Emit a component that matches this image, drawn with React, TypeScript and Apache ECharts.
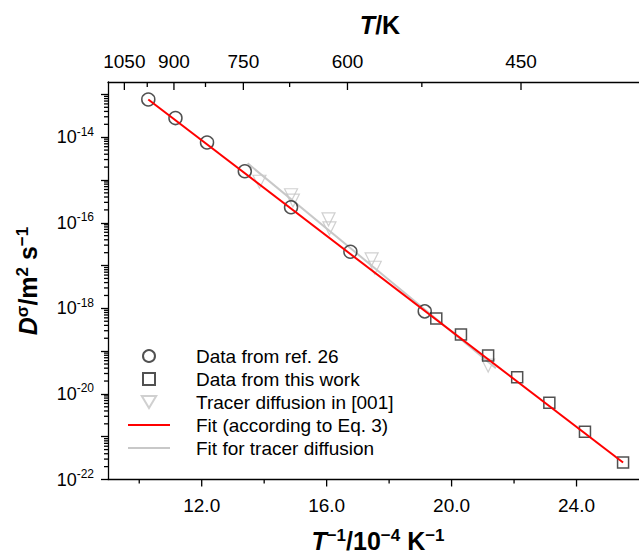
import React, { useEffect, useRef } from "react";
import * as echarts from "echarts";

const FONT = '"Liberation Sans", Arial, sans-serif';

// Data from ref. 26 (circles): x = T^-1 / 10^-4 K^-1, y = D (m^2 s^-1)
const refInvT = [10.29, 11.16, 12.17, 13.38, 14.86, 16.76, 19.14];
const refD = [7.6e-14, 2.8e-14, 7.5e-15, 1.6e-15, 2.3e-16, 2.1e-17, 8.5e-19];

// Data from this work (squares)
const workInvT = [19.51, 20.3, 21.17, 22.1, 23.13, 24.27, 25.49];
const workD = [5.8e-19, 2.45e-19, 7.9e-20, 2.45e-20, 6.2e-21, 1.3e-21, 2.5e-22];

// Tracer diffusion in [001] (triangles)
const tracerInvT = [13.85, 14.86, 14.92, 16.06, 16.09, 17.44, 17.54, 21.17];
const tracerD = [9.1e-16, 4.4e-16, 3.3e-16, 1.2e-16, 7.4e-17, 1.4e-17, 8.9e-18, 4.6e-20];

// Fit (according to Eq. 3)
const fitInvT = [10.29, 25.49];
const fitD = [7.6e-14, 2.5e-22];

// Fit for tracer diffusion
const tracerFitInvT = [13.47, 21.42];
const tracerFitD = [2.45e-15, 4.0e-20];

// Axes (y axis is drawn on log10(D))
const xMin = 9;
const xMax = 26;
const yMinExp = -22;
const yMaxExp = -12.71;
const bottomMajor = [12, 16, 20, 24];
const bottomMinor = [10, 14, 18, 22];
const topMajorT = [1050, 900, 750, 600, 450];
const topMinorT = [975, 825, 675, 525];
const yDecades = [-22, -21, -20, -19, -18, -17, -16, -15, -14, -13];
const yMinorMult = [2, 3, 4, 5, 6, 7, 8, 9];

const NAMES = [
  "Data from ref. 26",
  "Data from this work",
  "Tracer diffusion in [001]",
  "Fit (according to Eq. 3)",
  "Fit for tracer diffusion",
];

type Decor = { kind: string; x: number; y: number; label?: string };
const decor: Decor[] = [];
bottomMajor.forEach((v) => decor.push({ kind: "bMaj", x: v, y: yMinExp, label: v.toFixed(1) }));
bottomMinor.forEach((v) => decor.push({ kind: "bMin", x: v, y: yMinExp }));
topMajorT.forEach((T) => decor.push({ kind: "tMaj", x: 1e4 / T, y: yMinExp, label: String(T) }));
topMinorT.forEach((T) => decor.push({ kind: "tMin", x: 1e4 / T, y: yMinExp }));
yDecades.forEach((e) =>
  yMinorMult.forEach((m) => {
    const v = e + Math.log10(m);
    if (v < yMaxExp) decor.push({ kind: "yMin", x: xMin, y: v });
  })
);

const zipLog = (xs: number[], ys: number[]) => xs.map((x, i) => [x, Math.log10(ys[i])]);

const titleRich = {
  i: { fontSize: 25, fontWeight: "bold", fontStyle: "italic", fontFamily: FONT, fill: "#000", color: "#000" },
  b: { fontSize: 25, fontWeight: "bold", fontFamily: FONT, fill: "#000", color: "#000" },
  s: { fontSize: 17, fontWeight: "bold", fontFamily: FONT, fill: "#000", color: "#000", padding: [0, 0, 12, 0] },
};

const hiddenDot = { color: "rgba(0,0,0,0)", borderColor: "rgba(0,0,0,0)", borderWidth: 0, opacity: 0 };

export default function App() {
  const ref = useRef<HTMLDivElement>(null);
  useEffect(() => {
    if (!ref.current) return;
    const chart = echarts.init(ref.current, null, { renderer: "svg" });
    const tickStyle = { stroke: "#000", lineWidth: 1.3 };
    chart.setOption({
      animation: false,
      backgroundColor: "#fff",
      grid: { left: 108, top: 82, width: 540, height: 397.5, containLabel: false },
      xAxis: [
        {
          type: "value",
          min: xMin,
          max: xMax,
          position: "bottom",
          axisLine: { show: true, onZero: false, lineStyle: { color: "#000", width: 1.3 } },
          axisTick: { show: false },
          axisLabel: { show: false },
          splitLine: { show: false },
        },
        {
          type: "value",
          min: xMin,
          max: xMax,
          position: "top",
          axisLine: { show: true, onZero: false, lineStyle: { color: "#000", width: 1.3 } },
          axisTick: { show: false },
          axisLabel: { show: false },
          splitLine: { show: false },
        },
      ],
      yAxis: {
        type: "value",
        min: yMinExp,
        max: yMaxExp,
        interval: 1,
        axisLine: { show: true, onZero: false, lineStyle: { color: "#000", width: 1.3 } },
        axisTick: { show: true, inside: false, length: 7, lineStyle: { color: "#000", width: 1.3 } },
        splitLine: { show: false },
        axisLabel: {
          margin: 14,
          showMaxLabel: false,
          formatter: (v: number) => {
            const e = Math.round(v);
            if (Math.abs(v - e) > 1e-3 || e % 2 !== 0) return "";
            return `{b|10}{s|${e}}`;
          },
          rich: {
            b: { fontSize: 18, fontFamily: FONT, color: "#000" },
            s: { fontSize: 12, fontFamily: FONT, color: "#000", padding: [0, 0, 11, 0] },
          },
        },
      },
      legend: {
        orient: "vertical",
        left: 127,
        top: 346.5,
        padding: 0,
        itemGap: 4,
        itemWidth: 42,
        itemHeight: 12,
        data: [
          { name: NAMES[0], icon: "circle" },
          { name: NAMES[1], icon: "path://M0,0H10V10H0Z" },
          { name: NAMES[2], icon: "path://M0,0H12L6,10Z" },
          { name: NAMES[3], itemStyle: hiddenDot },
          { name: NAMES[4], itemStyle: hiddenDot },
        ],
        formatter: "{t|{name}}",
        textStyle: {
          fontSize: 19,
          fontFamily: FONT,
          color: "#000",
          rich: {
            t: { fontSize: 19, lineHeight: 19, fontFamily: FONT, color: "#000", padding: [0, 0, 0, 21] },
          },
        },
      },
      graphic: [
        {
          type: "text",
          x: 380,
          y: 25,
          style: { text: "{i|T}{b|/K}", rich: titleRich, align: "center", verticalAlign: "middle" },
        },
        {
          type: "text",
          x: 378,
          y: 541,
          style: {
            text: "{i|T}{s|\u22121}{b|/10}{s|\u22124}{b| K}{s|\u22121}",
            rich: titleRich,
            align: "center",
            verticalAlign: "middle",
          },
        },
        {
          type: "text",
          x: 28,
          y: 281,
          rotation: Math.PI / 2,
          style: {
            text: "{i|D}{s|\u03c3}{b|/m}{s|2}{b| s}{s|\u22121}",
            rich: titleRich,
            align: "center",
            verticalAlign: "middle",
          },
        },
      ],
      series: [
        {
          type: "custom",
          silent: true,
          clip: false,
          z: 1,
          data: decor.map((d) => [d.x, d.y]),
          renderItem: (params: any, api: any) => {
            const d = decor[params.dataIndex];
            const cs = params.coordSys;
            const top = cs.y;
            const bottom = cs.y + cs.height;
            const left = cs.x;
            const children: any[] = [];
            if (d.kind === "bMaj" || d.kind === "bMin" || d.kind === "tMaj" || d.kind === "tMin") {
              const px = api.coord([d.x, yMinExp])[0];
              if (d.kind === "bMaj" || d.kind === "bMin") {
                const len = d.kind === "bMaj" ? 7 : 4;
                children.push({ type: "line", shape: { x1: px, y1: bottom, x2: px, y2: bottom + len }, style: tickStyle });
                if (d.label)
                  children.push({
                    type: "text",
                    x: px,
                    y: bottom + 25.5,
                    style: { text: d.label, fill: "#000", fontSize: 19, fontFamily: FONT, align: "center", verticalAlign: "middle" },
                  });
              } else {
                const len = d.kind === "tMaj" ? 8 : 5;
                children.push({ type: "line", shape: { x1: px, y1: top, x2: px, y2: top + len }, style: tickStyle });
                if (d.label)
                  children.push({
                    type: "text",
                    x: px,
                    y: 61,
                    style: { text: d.label, fill: "#000", fontSize: 19, fontFamily: FONT, align: "center", verticalAlign: "middle" },
                  });
              }
            } else {
              const py = api.coord([xMin, d.y])[1];
              children.push({ type: "line", shape: { x1: left - 4, y1: py, x2: left, y2: py }, style: tickStyle });
            }
            return { type: "group", children };
          },
        },
        {
          name: NAMES[2],
          type: "scatter",
          symbol: "triangle",
          symbolRotate: 180,
          symbolSize: 13,
          z: 2,
          itemStyle: { color: "transparent", borderColor: "#c4c4c4", borderWidth: 1.2 },
          data: zipLog(tracerInvT, tracerD),
        },
        {
          name: NAMES[4],
          type: "line",
          symbol: "none",
          z: 3,
          lineStyle: { color: "#c8c8c8", width: 2 },
          itemStyle: { color: "#c8c8c8" },
          data: zipLog(tracerFitInvT, tracerFitD),
        },
        {
          name: NAMES[0],
          type: "scatter",
          symbol: "circle",
          symbolSize: 13,
          z: 4,
          itemStyle: { color: "transparent", borderColor: "#262626", borderWidth: 1.5 },
          data: zipLog(refInvT, refD),
        },
        {
          name: NAMES[1],
          type: "scatter",
          symbol: "rect",
          symbolSize: 11,
          z: 4,
          itemStyle: { color: "transparent", borderColor: "#262626", borderWidth: 1.5 },
          data: zipLog(workInvT, workD),
        },
        {
          name: NAMES[3],
          type: "line",
          symbol: "none",
          z: 5,
          lineStyle: { color: "#ff0000", width: 2 },
          itemStyle: { color: "#ff0000" },
          data: zipLog(fitInvT, fitD),
        },
      ],
    });
    return () => chart.dispose();
  }, []);
  return (
    <div
      ref={ref}
      style={{ position: "fixed", left: 0, top: 0, width: 639, height: 554, background: "#fff" }}
    />
  );
}
